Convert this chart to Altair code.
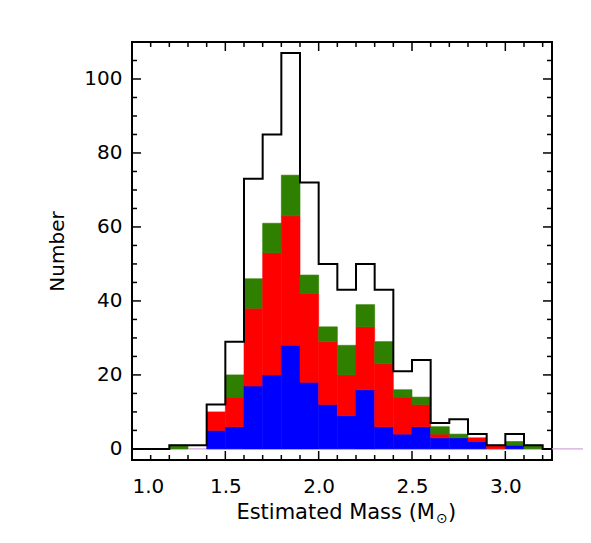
import altair as alt
import pandas as pd

# ---- data ----
bin_left = [1.0, 1.1, 1.2, 1.3, 1.4, 1.5, 1.6, 1.7, 1.8, 1.9, 2.0,
            2.1, 2.2, 2.3, 2.4, 2.5, 2.6, 2.7, 2.8, 2.9, 3.0, 3.1]
bin_width = 0.1
total = [0, 0, 1, 1, 12, 29, 73, 85, 107, 72, 50,
         43, 50, 43, 21, 24, 7, 8, 4, 1, 4, 1]
blue = [0, 0, 0, 0, 5, 6, 17, 20, 28, 18, 12,
        9, 16, 6, 4, 6, 3, 3, 2, 0, 1, 0]
red = [0, 0, 0, 0, 5, 8, 21, 33, 35, 24, 17,
       11, 17, 17, 10, 6, 1, 0, 1, 1, 0, 0]
green = [0, 0, 1, 0, 0, 6, 8, 8, 11, 5, 4,
         8, 6, 6, 2, 2, 2, 1, 0, 0, 1, 1]
series_names = ["blue", "red", "green"]
series_colors = ["#0000ff", "#ff0000", "#2f7f00"]

x_major = [1.0, 1.5, 2.0, 2.5, 3.0]
x_minor = [1.1, 1.2, 1.3, 1.4, 1.6, 1.7, 1.8, 1.9, 2.1, 2.2, 2.3, 2.4,
           2.6, 2.7, 2.8, 2.9, 3.1, 3.2]
y_major = [0, 20, 40, 60, 80, 100]
y_minor = [5, 10, 15, 25, 30, 35, 45, 50, 55, 65, 70, 75, 85, 90, 95, 105]

x_title_main = "Estimated Mass (M"
x_title_sub = "⊙"
x_title_end = ")"
y_title = "Number"

x_domain = [1.0, 3.25]
y_domain = [-3, 110]

W, H = 420, 418
FONT = "DejaVu Sans"

# ---- tables ----
rows = []
for i, x0 in enumerate(bin_left):
    for k, (name, vals) in enumerate(zip(series_names, [blue, red, green])):
        rows.append({"x0": x0, "x1": round(x0 + bin_width, 2), "series": name,
                     "order": k, "n": vals[i]})
bars_df = pd.DataFrame(rows)

outline_df = pd.DataFrame({
    "x": bin_left + [round(bin_left[-1] + bin_width, 2), x_domain[1]],
    "n": total + [0, 0],
})
pink_df = pd.DataFrame({"x": [x_domain[0], 3.6], "n": [0, 0]})

xs = alt.Scale(domain=x_domain, nice=False, zero=False)
ys = alt.Scale(domain=y_domain, nice=False, zero=False)
cs = alt.Scale(domain=series_names, range=series_colors)

pink = alt.Chart(pink_df).mark_line(color="#cfa8d8", strokeWidth=1.2, clip=False).encode(
    x=alt.X("x:Q", scale=xs), y=alt.Y("n:Q", scale=ys))

bars = alt.Chart(bars_df).transform_filter(
    alt.datum.n > 0
).transform_stack(
    stack="n", groupby=["x0"], as_=["ylo", "yhi"],
    sort=[alt.SortField("order", order="ascending")],
).mark_bar(strokeWidth=0.6).encode(
    x=alt.X("x0:Q", scale=xs,
            axis=alt.Axis(values=x_major, format=".1f", ticks=False, domain=False,
                          grid=False, labelFont=FONT, labelFontSize=20,
                          labelColor="black", labelPadding=16, title=None)),
    x2="x1:Q",
    y=alt.Y("yhi:Q", scale=ys,
            axis=alt.Axis(values=y_major, ticks=False, domain=False, grid=False,
                          labelFont=FONT, labelFontSize=20, labelColor="black",
                          labelPadding=10, title=y_title, titleFont=FONT,
                          titleFontSize=20, titleFontWeight="normal",
                          titleColor="black", titlePadding=16)),
    y2="ylo:Q",
    color=alt.Color("series:N", scale=cs, legend=None),
    stroke=alt.Stroke("series:N", scale=cs, legend=None),
)

outline = alt.Chart(outline_df).mark_line(color="black", strokeWidth=2,
                                          interpolate="step-after").encode(
    x=alt.X("x:Q", scale=xs), y=alt.Y("n:Q", scale=ys))


def xticks(vals, size):
    d = pd.DataFrame({"v": vals})
    b = alt.Chart(d).mark_rule(color="black", strokeWidth=1.5).encode(
        x=alt.X("v:Q", scale=xs), y=alt.value(H), y2=alt.value(H - size))
    t = alt.Chart(d).mark_rule(color="black", strokeWidth=1.5).encode(
        x=alt.X("v:Q", scale=xs), y=alt.value(0), y2=alt.value(size))
    return [b, t]


def yticks(vals, size):
    d = pd.DataFrame({"v": vals})
    l = alt.Chart(d).mark_rule(color="black", strokeWidth=1.5).encode(
        y=alt.Y("v:Q", scale=ys), x=alt.value(0), x2=alt.value(size))
    r = alt.Chart(d).mark_rule(color="black", strokeWidth=1.5).encode(
        y=alt.Y("v:Q", scale=ys), x=alt.value(W), x2=alt.value(W - size))
    return [l, r]


def label(text, x, y, size, align):
    return alt.Chart(pd.DataFrame({"t": [text]})).mark_text(
        font=FONT, fontSize=size, color="black", align=align,
        baseline="alphabetic").encode(text="t:N", x=alt.value(x), y=alt.value(y))


title_layers = [
    label(x_title_main, 303, 477, 21, "right"),
    label(x_title_sub, 304, 481, 14, "left"),
    label(x_title_end, 316, 477, 21, "left"),
]

layers = [pink, bars, outline] + xticks(x_major, 9) + xticks(x_minor, 5) \
    + yticks(y_major, 9) + yticks(y_minor, 5) + title_layers

chart = alt.layer(*layers).properties(
    width=W, height=H,
    autosize=alt.AutoSizeParams(type="none"),
    padding={"left": 124, "top": 34, "right": 31, "bottom": 74},
    background="white",
).configure_view(stroke="black", strokeWidth=2)

chart.save("out.html", embed_options={"renderer": "svg", "actions": False})
